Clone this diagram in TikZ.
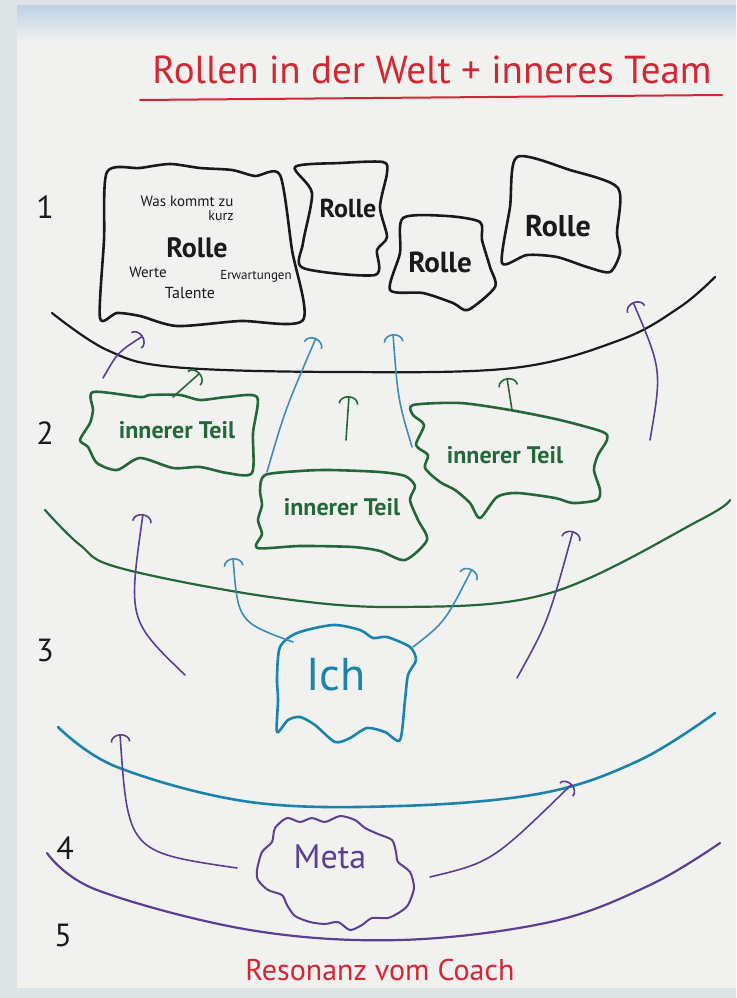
\documentclass[tikz,border=0pt]{standalone}
\usepackage{fontspec}
\setmainfont{PT Sans}
\usetikzlibrary{arrows.meta, positioning}
\definecolor{MarkerRed}{RGB}{212, 38, 50}
\definecolor{MarkerBlack}{RGB}{26, 26, 28}
\definecolor{MarkerGreen}{RGB}{36, 104, 58}
\definecolor{MarkerBlue}{RGB}{28, 132, 172}
\definecolor{ArrowBlue}{RGB}{62, 140, 186}
\definecolor{MarkerPurple}{RGB}{92, 62, 148}
\definecolor{PaperWhite}{RGB}{241, 241, 239}
\definecolor{PaperEdge}{RGB}{222, 227, 229}
\definecolor{SkyTint}{RGB}{190, 210, 230}

\begin{document}
\begin{tikzpicture}[x=1pt, y=-1pt,
    outline/.style={line width=2.6pt, line join=round, smooth cycle, tension=0.45},
    bogen/.style={line width=2.2pt, line cap=round},
    pfeil/.style={line width=1.6pt, line cap=round, -{Arc Barb[length=8pt, width=20pt]}},
    hand/.style={inner sep=0pt},
    nummer/.style={hand, MarkerBlack, font=\fontsize{32}{32}\selectfont}]
    \useasboundingbox (0,0) rectangle (736,998);

    % Papier
    \fill[PaperEdge] (0,0) rectangle (736,998);
    \fill[PaperWhite] (17,6) rectangle (736,988);
    \shade[top color=SkyTint, bottom color=PaperWhite] (17,6) rectangle (736,42);

    % Titel
    \node[hand, anchor=base, MarkerRed, font=\fontsize{39}{39}\selectfont] (titel) at (432,84)
        {Rollen in der Welt + inneres Team};
    \draw[MarkerRed, line width=2pt, line cap=round] (140,100) -- (722,95);

    % Ebenen 1-5
    \foreach \n/\x/\y in {1/45/207, 2/45/433, 3/45/650, 4/65/848, 5/63/935}
        \node[nummer] (n\n) at (\x,\y) {\n};

    % Ebene 1: Rollen
    \begin{scope}[MarkerBlack]
        \draw[outline] plot coordinates {(107,172) (140,168) (170,164) (200,168) (232,170)
            (255,176) (280,175) (292,250) (303,320) (240,321) (177,326) (140,316)
            (117,313) (100,318) (104,240)};
        \draw[outline] plot coordinates {(295,167) (340,163) (383,162) (387,173) (380,207)
            (387,237) (377,250) (375,275) (303,268) (303,243) (312,193)};
        \draw[outline] plot coordinates {(403,218) (447,216) (480,222) (482,240) (490,267)
            (495,287) (468,310) (453,303) (423,293) (390,290) (400,253)};
        \draw[outline] plot coordinates {(517,157) (570,170) (618,188) (617,233) (620,253)
            (610,272) (587,267) (557,257) (527,255) (502,263) (510,207)};
        \node[hand, font=\fontsize{15}{15}\selectfont] (wasKommt) at (187,201) {Was kommt zu};
        \node[hand, font=\fontsize{14}{14}\selectfont] (kurz) at (221,216) {kurz};
        \node[hand, font=\bfseries\fontsize{28}{28}\selectfont] (rolleGross) at (197,248) {Rolle};
        \node[hand, font=\fontsize{15}{15}\selectfont] (werte) at (148,272) {Werte};
        \node[hand, font=\fontsize{13}{13}\selectfont] (erwartungen) at (256,276) {Erwartungen};
        \node[hand, font=\fontsize{16}{16}\selectfont] (talente) at (190,293) {Talente};
        \node[hand, font=\bfseries\fontsize{26}{26}\selectfont] (rolleA) at (348,208) {Rolle};
        \node[hand, font=\bfseries\fontsize{29}{29}\selectfont] (rolleB) at (440,262) {Rolle};
        \node[hand, font=\bfseries\fontsize{30}{30}\selectfont] (rolleC) at (558,226) {Rolle};
    \end{scope}
    \draw[bogen, MarkerBlack] plot[smooth, tension=0.6] coordinates {(52,313) (107,350)
        (173,367) (340,372) (513,368) (620,340) (680,307) (715,277)};

    % Ebene 2: innere Teile
    \begin{scope}[MarkerGreen]
        \draw[outline] plot coordinates {(93,392) (140,397) (150,395) (180,395) (200,400)
            (227,397) (257,397) (253,433) (252,473) (227,473) (200,467) (173,468)
            (140,458) (117,470) (97,463) (88,447) (80,440) (90,423) (93,410)};
        \draw[outline] plot coordinates {(265,475) (300,471) (330,470) (380,472) (405,476)
            (415,486) (410,500) (418,520) (427,540) (405,560) (380,551) (353,547)
            (300,546) (257,548) (262,534) (258,520) (262,505) (260,490)};
        \draw[outline] plot coordinates {(413,405) (460,403) (510,410) (560,420) (603,432)
            (607,440) (598,455) (594,470) (600,490) (597,500) (573,503) (555,498)
            (517,493) (497,497) (480,518) (470,503) (455,490) (440,482) (425,468)
            (428,455) (416,445) (424,425) (413,415)};
        \node[hand, font=\bfseries\fontsize{24}{24}\selectfont] (teilA) at (177,430) {innerer Teil};
        \node[hand, font=\bfseries\fontsize{24}{24}\selectfont] (teilB) at (342,507) {innerer Teil};
        \node[hand, font=\bfseries\fontsize{24}{24}\selectfont] (teilC) at (505,455) {innerer Teil};
    \end{scope}
    \draw[bogen, MarkerGreen] plot[smooth, tension=0.6] coordinates {(45,510) (80,545)
        (120,568) (270,597) (400,607) (550,593) (700,520) (730,500)};

    % Ebene 3: Ich
    \draw[outline, MarkerBlue] plot coordinates {(297,633) (333,625) (360,630) (373,638)
        (387,637) (410,647) (416,660) (408,675) (405,700) (400,740) (385,732) (367,728)
        (350,738) (335,742) (315,725) (300,717) (288,720) (277,732) (278,700) (277,677)
        (280,647)};
    \node[hand, MarkerBlue, font=\fontsize{46}{46}\selectfont] (ich) at (336,675) {Ich};
    \draw[bogen, MarkerBlue, line width=2.6pt] plot[smooth, tension=0.6] coordinates {(58,727)
        (117,767) (250,802) (400,806) (543,793) (640,760) (715,713)};

    % Ebene 4: Meta
    \draw[outline, line width=2pt, MarkerPurple] plot coordinates {(257,870) (262,852)
        (272,842) (275,828) (287,818) (300,822) (312,818) (325,822) (340,816) (355,820)
        (365,828) (378,834) (392,840) (396,852) (398,862) (410,872) (414,888) (408,905)
        (400,912) (388,918) (372,918) (362,925) (350,930) (338,922) (325,924) (310,922)
        (295,916) (287,905) (282,895) (268,890) (258,880)};
    \node[hand, MarkerPurple, font=\fontsize{34}{34}\selectfont] (meta) at (330,857) {Meta};
    \draw[bogen, MarkerPurple] plot[smooth, tension=0.6] coordinates {(47,853) (97,890)
        (250,930) (400,940) (550,922) (650,885) (720,843)};

    % Ebene 5
    \node[hand, anchor=base, MarkerRed, font=\fontsize{30}{30}\selectfont] (resonanz) at (380,980)
        {Resonanz vom Coach};

    % Pfeile
    \coordinate (p1s) at (103,378);  \coordinate (p1e) at (143,336);
    \coordinate (p2s) at (173,397);  \coordinate (p2e) at (200,373);
    \coordinate (p3s) at (267,472);  \coordinate (p3e) at (316,338);
    \coordinate (p4s) at (346,440);  \coordinate (p4e) at (349,396);
    \coordinate (p5s) at (412,447);  \coordinate (p5e) at (393,334);
    \coordinate (p6s) at (512,410);  \coordinate (p6e) at (507,378);
    \coordinate (p7s) at (650,440);  \coordinate (p7e) at (633,302);
    \coordinate (p8s) at (185,675);  \coordinate (p8e) at (143,514);
    \coordinate (p9s) at (293,642);  \coordinate (p9e) at (233,558);
    \coordinate (p10s) at (413,647); \coordinate (p10e) at (472,569);
    \coordinate (p11s) at (517,678); \coordinate (p11e) at (573,531);
    \coordinate (p12s) at (237,868); \coordinate (p12e) at (120,734);
    \coordinate (p13s) at (430,877); \coordinate (p13e) at (572,784);

    \draw[pfeil, MarkerPurple] (p1s) .. controls (118,352) .. (p1e);
    \draw[pfeil, MarkerGreen] (p2s) -- (p2e);
    \draw[pfeil, ArrowBlue] (p3s) .. controls (285,410) .. (p3e);
    \draw[pfeil, MarkerGreen] (p4s) -- (p4e);
    \draw[pfeil, ArrowBlue] (p5s) .. controls (398,400) .. (p5e);
    \draw[pfeil, MarkerGreen] (p6s) -- (p6e);
    \draw[pfeil, MarkerPurple] (p7s) .. controls (662,370) .. (p7e);
    \draw[pfeil, MarkerPurple] (p8s) .. controls (128,620) .. (p8e);
    \draw[pfeil, ArrowBlue] (p9s) .. controls (238,622) .. (p9e);
    \draw[pfeil, ArrowBlue] (p10s) .. controls (445,622) .. (p10e);
    \draw[pfeil, MarkerPurple] (p11s) .. controls (548,622) .. (p11e);
    \draw[pfeil, MarkerPurple] (p12s) .. controls (128,852) .. (p12e);
    \draw[pfeil, MarkerPurple] (p13s) .. controls (492,862) .. (p13e);
\end{tikzpicture}
\end{document}
